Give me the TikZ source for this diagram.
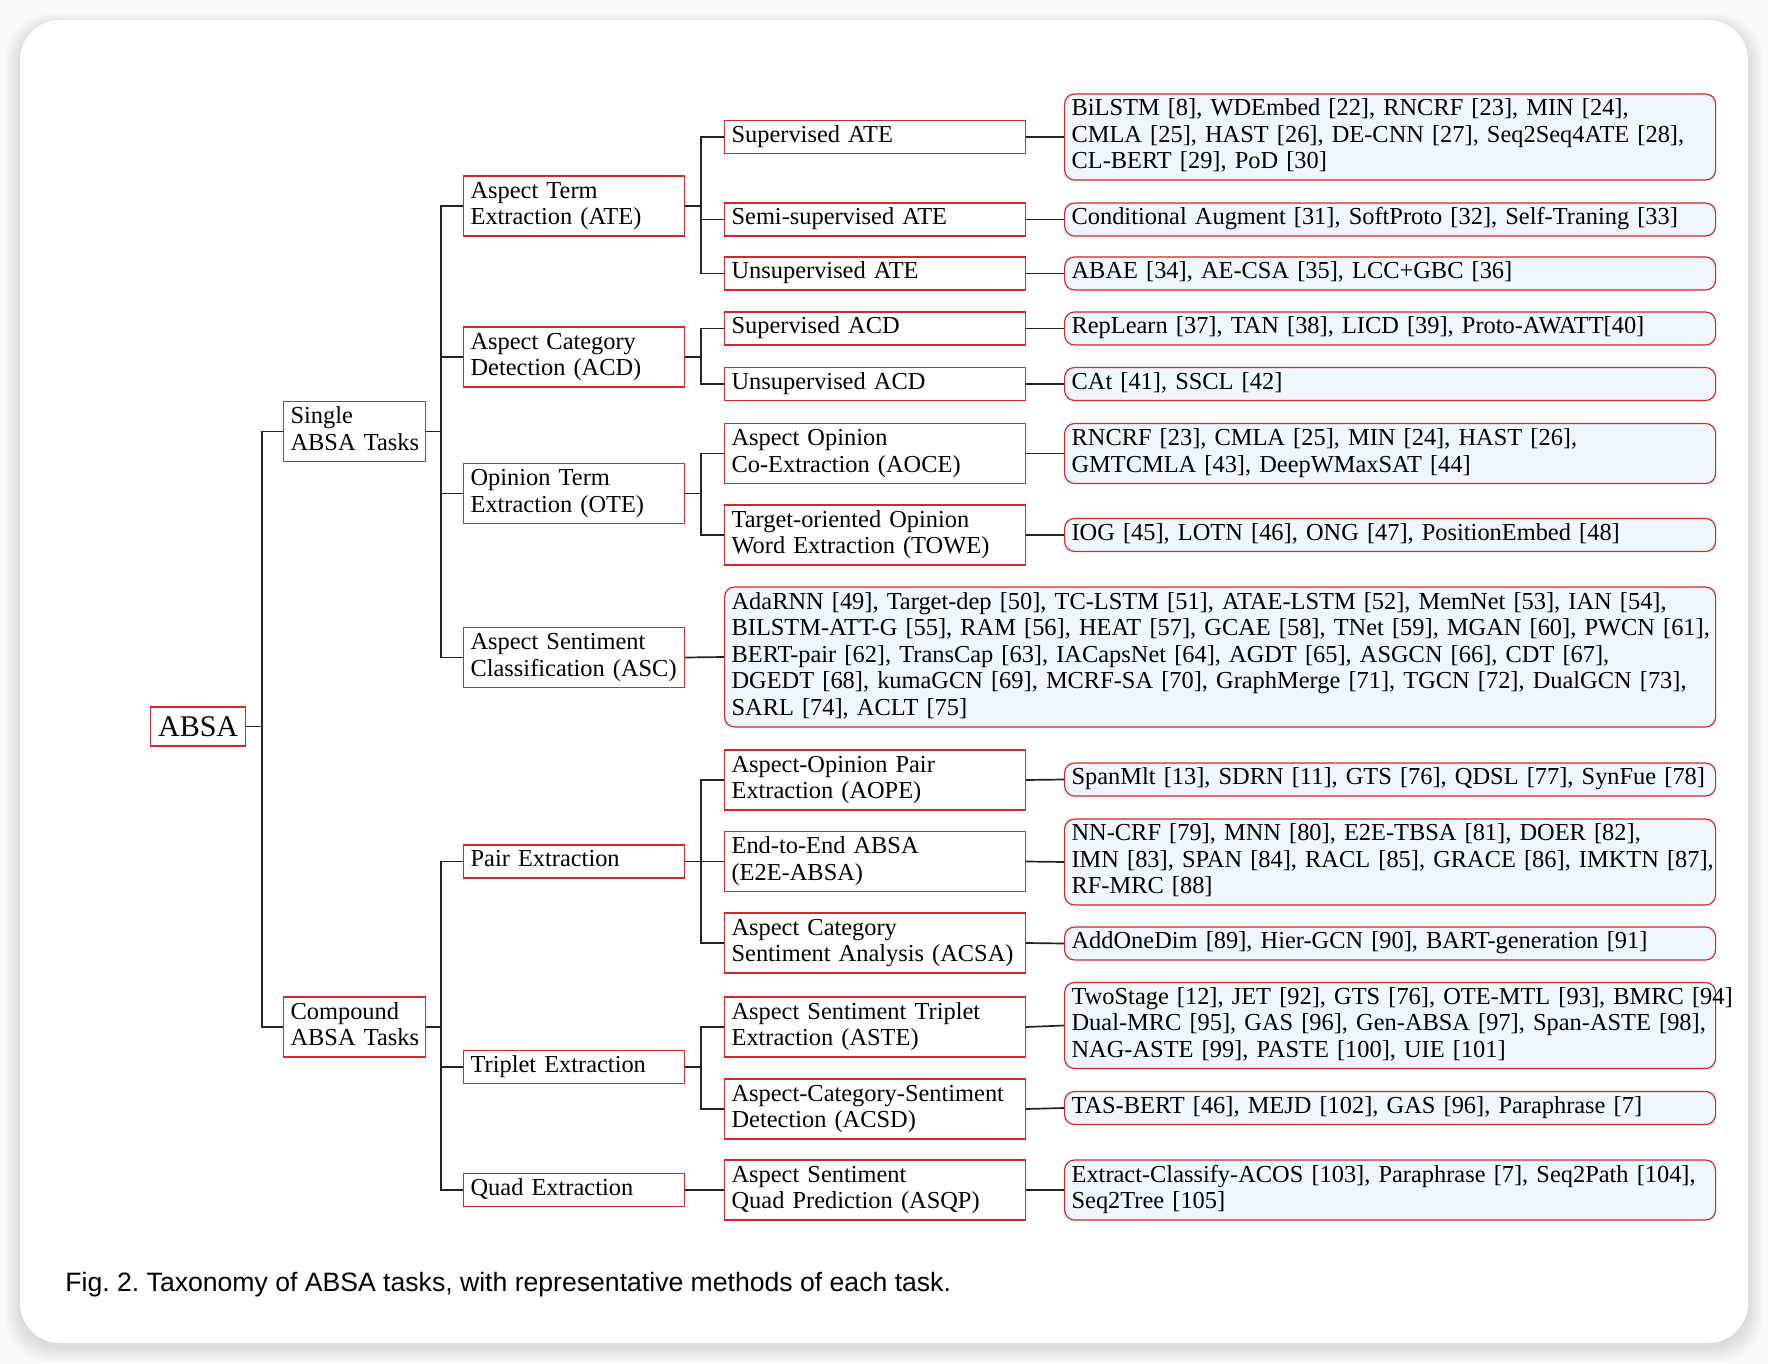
\documentclass[tikz,border=0pt]{standalone}
\usepackage{fontspec}
\setmainfont{Liberation Serif}
\newfontfamily\capfont{Liberation Sans}
\usetikzlibrary{calc}
\definecolor{boxred}{RGB}{214,39,40}
\definecolor{methfill}{RGB}{239,246,252}
\definecolor{edgec}{RGB}{35,35,35}
\newcommand\stackl[1]{\noindent\begin{tabular}{@{}l@{}}#1\end{tabular}}
\begin{document}
\begin{tikzpicture}[x=0.5pt,y=-0.5pt,
  every node/.style={font=\fontsize{12.2}{13.3}\selectfont},
  base/.style={draw=boxred, line width=0.6pt, anchor=west, inner xsep=3.5pt, inner ysep=1pt, align=left, fill=white},
  lone/.style={base, text width=64pt},
  ltwo/.style={base, text width=103.5pt},
  lthree/.style={base, text width=143.5pt},
  meth/.style={base, text width=318.5pt, fill=methfill, rounded corners=5pt},
  hA/.style={minimum height=16.5pt},
  hB/.style={minimum height=30pt},
  hC/.style={minimum height=43pt},
  hE/.style={minimum height=70pt},
  edge/.style={draw=edgec, line width=0.85pt},
  capt/.style={anchor=base west, inner sep=0pt, font=\capfont\fontsize{13.3}{16}\selectfont}
]
\useasboundingbox (0,0) rectangle (1768,1364);
% background and card
\fill[gray!4] (0,0) rectangle (1768,1364);
\foreach \i in {1,...,10}{
  \fill[black, opacity=0.012, rounded corners=22pt] (20-\i*1.5,20-\i*1.0+4) rectangle (1748+\i*1.5,1343+\i*1.6+4);
}
\fill[white, rounded corners=20pt] (20,20) rectangle (1748,1343);

% coordinates of trunks
\coordinate (x0) at (262,0);
\coordinate (x1) at (441,0);
\coordinate (x2) at (701,0);

% root
\node[base, text width=40.5pt, align=center, minimum height=19.5pt, font=\fontsize{15}{16}\selectfont] (ABSA) at (150,726.5) {ABSA};

% level 1
\node[lone, hB] (Single) at (283,431.5) {\stackl{Single\\ABSA Tasks}};
\node[lone, hB] (Compound) at (283,1027) {\stackl{Compound\\ABSA Tasks}};

% level 2
\node[ltwo, hB] (ATE) at (463,206) {\stackl{Aspect Term\\Extraction (ATE)}};
\node[ltwo, hB] (ACD) at (463,357) {\stackl{Aspect Category\\Detection (ACD)}};
\node[ltwo, hB] (OTE) at (463,493.5) {\stackl{Opinion Term\\Extraction (OTE)}};
\node[ltwo, hB] (ASC) at (463,657.5) {\stackl{Aspect Sentiment\\Classification (ASC)}};
\node[ltwo, hA] (Pair) at (463,861.5) {\stackl{Pair Extraction}};
\node[ltwo, hA] (Triplet) at (463,1067) {\stackl{Triplet Extraction}};
\node[ltwo, hA] (Quad) at (463,1190) {\stackl{Quad Extraction}};

% level 3
\node[lthree, hA] (SupATE) at (724,137) {\stackl{Supervised ATE}};
\node[lthree, hA] (SemiATE) at (724,219.5) {\stackl{Semi-supervised ATE}};
\node[lthree, hA] (UnsATE) at (724,273.5) {\stackl{Unsupervised ATE}};
\node[lthree, hA] (SupACD) at (724,328.5) {\stackl{Supervised ACD}};
\node[lthree, hA] (UnsACD) at (724,384) {\stackl{Unsupervised ACD}};
\node[lthree, hB] (AOCE) at (724,453.5) {\stackl{Aspect Opinion\\Co-Extraction (AOCE)}};
\node[lthree, hB] (TOWE) at (724,535) {\stackl{Target-oriented Opinion\\Word Extraction (TOWE)}};
\node[meth, hE, text width=488.5pt] (mASC) at (724,657) {\stackl{AdaRNN [49], Target-dep [50], TC-LSTM [51], ATAE-LSTM [52], MemNet [53], IAN [54],\\BILSTM-ATT-G [55], RAM [56], HEAT [57], GCAE [58], TNet [59], MGAN [60], PWCN [61],\\BERT-pair [62], TransCap [63], IACapsNet [64], AGDT [65], ASGCN [66], CDT [67],\\DGEDT [68], kumaGCN [69], MCRF-SA [70], GraphMerge [71], TGCN [72], DualGCN [73],\\SARL [74], ACLT [75]}};
\node[lthree, hB] (AOPE) at (724,780) {\stackl{Aspect-Opinion Pair\\Extraction (AOPE)}};
\node[lthree, hB] (E2E) at (724,861.5) {\stackl{End-to-End ABSA\\(E2E-ABSA)}};
\node[lthree, hB] (ACSA) at (724,943) {\stackl{Aspect Category\\Sentiment Analysis (ACSA)}};
\node[lthree, hB] (ASTE) at (724,1027) {\stackl{Aspect Sentiment Triplet\\Extraction (ASTE)}};
\node[lthree, hB] (ACSD) at (724,1109) {\stackl{Aspect-Category-Sentiment\\Detection (ACSD)}};
\node[lthree, hB] (ASQP) at (724,1190) {\stackl{Aspect Sentiment\\Quad Prediction (ASQP)}};

% level 4 (methods)
\node[meth, hC] (mSupATE) at (1064,137) {\stackl{BiLSTM [8], WDEmbed [22], RNCRF [23], MIN [24],\\CMLA [25], HAST [26], DE-CNN [27], Seq2Seq4ATE [28],\\CL-BERT [29], PoD [30]}};
\node[meth, hA] (mSemiATE) at (1064,219.5) {\stackl{Conditional Augment [31], SoftProto [32], Self-Traning [33]}};
\node[meth, hA] (mUnsATE) at (1064,273.5) {\stackl{ABAE [34], AE-CSA [35], LCC+GBC [36]}};
\node[meth, hA] (mSupACD) at (1064,328.5) {\stackl{RepLearn [37], TAN [38], LICD [39], Proto-AWATT[40]}};
\node[meth, hA] (mUnsACD) at (1064,384) {\stackl{CAt [41], SSCL [42]}};
\node[meth, hB] (mAOCE) at (1064,453.5) {\stackl{RNCRF [23], CMLA [25], MIN [24], HAST [26],\\GMTCMLA [43], DeepWMaxSAT [44]}};
\node[meth, hA] (mTOWE) at (1064,535) {\stackl{IOG [45], LOTN [46], ONG [47], PositionEmbed [48]}};
\node[meth, hA] (mAOPE) at (1064,779.5) {\stackl{SpanMlt [13], SDRN [11], GTS [76], QDSL [77], SynFue [78]}};
\node[meth, hC] (mE2E) at (1064,862) {\stackl{NN-CRF [79], MNN [80], E2E-TBSA [81], DOER [82],\\IMN [83], SPAN [84], RACL [85], GRACE [86], IMKTN [87],\\RF-MRC [88]}};
\node[meth, hA] (mACSA) at (1064,943.5) {\stackl{AddOneDim [89], Hier-GCN [90], BART-generation [91]}};
\node[meth, hC] (mASTE) at (1064,1025.5) {\stackl{TwoStage [12], JET [92], GTS [76], OTE-MTL [93], BMRC [94]\\Dual-MRC [95], GAS [96], Gen-ABSA [97], Span-ASTE [98],\\NAG-ASTE [99], PASTE [100], UIE [101]}};
\node[meth, hA] (mACSD) at (1064,1108) {\stackl{TAS-BERT [46], MEJD [102], GAS [96], Paraphrase [7]}};
\node[meth, hB] (mASQP) at (1064,1190) {\stackl{Extract-Classify-ACOS [103], Paraphrase [7], Seq2Path [104],\\Seq2Tree [105]}};

% edges
\draw[edge] (ABSA.east) -- (ABSA.east -| x0) |- (Single.west);
\draw[edge] (ABSA.east -| x0) |- (Compound.west);
\foreach \c in {ATE,ACD,OTE,ASC}{
  \draw[edge] (Single.east) -- (Single.east -| x1) |- (\c.west);
}
\foreach \c in {Pair,Triplet,Quad}{
  \draw[edge] (Compound.east) -- (Compound.east -| x1) |- (\c.west);
}
\foreach \c in {SupATE,SemiATE,UnsATE}{
  \draw[edge] (ATE.east) -- (ATE.east -| x2) |- (\c.west);
}
\foreach \c in {SupACD,UnsACD}{
  \draw[edge] (ACD.east) -- (ACD.east -| x2) |- (\c.west);
}
\foreach \c in {AOCE,TOWE}{
  \draw[edge] (OTE.east) -- (OTE.east -| x2) |- (\c.west);
}
\draw[edge] (ASC.east) -- (mASC.west);
\foreach \c in {AOPE,E2E,ACSA}{
  \draw[edge] (Pair.east) -- (Pair.east -| x2) |- (\c.west);
}
\foreach \c in {ASTE,ACSD}{
  \draw[edge] (Triplet.east) -- (Triplet.east -| x2) |- (\c.west);
}
\draw[edge] (Quad.east) -- (ASQP.west);
\foreach \c in {SupATE,SemiATE,UnsATE,SupACD,UnsACD,AOCE,TOWE,AOPE,E2E,ACSA,ASTE,ACSD,ASQP}{
  \draw[edge] (\c.east) -- (m\c.west);
}

% caption
\node[capt] (cap) at (65,1291) {\frenchspacing Fig. 2. Taxonomy of ABSA tasks, with representative methods of each task.};
\end{tikzpicture}
\end{document}
